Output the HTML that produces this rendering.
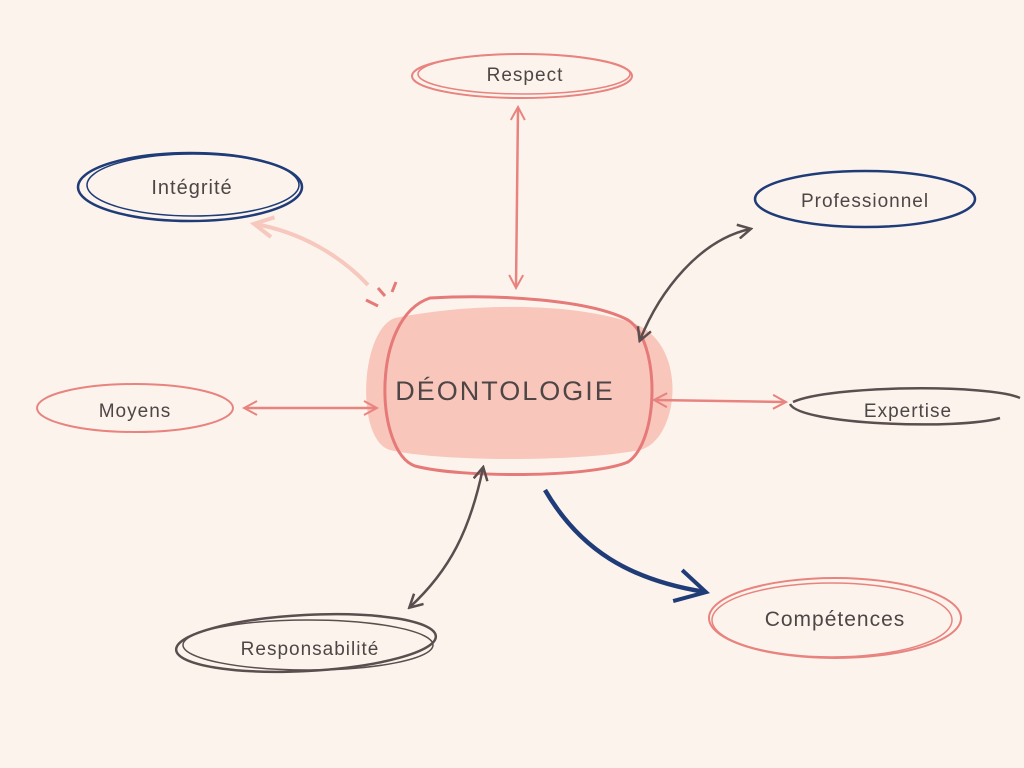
<!DOCTYPE html>
<html><head><meta charset="utf-8"><style>
html,body{margin:0;padding:0;background:#fcf4ec;}
svg{display:block}
text{font-family:"Liberation Sans",sans-serif;fill:#4e4646;}
</style></head><body>
<svg width="1024" height="768" viewBox="0 0 1024 768" xmlns="http://www.w3.org/2000/svg">
<rect width="1024" height="768" fill="#fcf4ec"/>
<defs>
<marker id="ap" markerWidth="16" markerHeight="16" refX="13" refY="8" orient="auto-start-reverse" markerUnits="userSpaceOnUse"><path d="M1,1 L14,8 L1,15" fill="none" stroke="#e8837f" stroke-width="2"/></marker>
<marker id="ag" markerWidth="16" markerHeight="16" refX="13" refY="8" orient="auto-start-reverse" markerUnits="userSpaceOnUse"><path d="M1,1 L14,8 L1,15" fill="none" stroke="#5a4e4e" stroke-width="2.5"/></marker>
<marker id="al" markerWidth="24" markerHeight="24" refX="19" refY="12" orient="auto-start-reverse" markerUnits="userSpaceOnUse"><path d="M1,2 L20,12 L1,22" fill="none" stroke="#f7c8bd" stroke-width="4"/></marker>
<marker id="an" markerWidth="40" markerHeight="40" refX="32" refY="20" orient="auto" markerUnits="userSpaceOnUse"><path d="M6,2 L33,20 L2,34" fill="none" stroke="#1f3c78" stroke-width="4"/></marker>
</defs>
<!-- central -->
<path d="M395,318 C460,305 560,300 630,322 C690,340 680,440 640,450 C580,462 440,462 390,450 C355,440 360,330 395,318Z" fill="#f9c6bb"/>
<path d="M430,298 C500,294 590,300 628,320 C660,340 660,440 628,462 C590,478 460,478 415,466 C375,452 370,318 430,298Z" fill="none" stroke="#e57a79" stroke-width="3"/>
<path d="M378,306 L366,300 M385,296 L378,288 M392,292 L396,282" stroke="#e57a79" stroke-width="3" fill="none"/>
<text x="505" y="400" text-anchor="middle" font-size="27" letter-spacing="2" style="fill:#4e4646">DÉONTOLOGIE</text>
<!-- nodes -->
<ellipse cx="522" cy="76" rx="110" ry="22" fill="none" stroke="#e8837f" stroke-width="2"/>
<ellipse cx="524" cy="74" rx="106" ry="20" fill="none" stroke="#e8837f" stroke-width="1.5"/>
<text x="525" y="81" text-anchor="middle" font-size="19" letter-spacing="1">Respect</text>
<ellipse cx="190" cy="187" rx="112" ry="34" fill="none" stroke="#1f3c78" stroke-width="2.5"/>
<ellipse cx="193" cy="185" rx="106" ry="31" fill="none" stroke="#1f3c78" stroke-width="1.5"/>
<text x="192" y="194" text-anchor="middle" font-size="20" letter-spacing="1">Intégrité</text>
<ellipse cx="865" cy="199" rx="110" ry="28" fill="none" stroke="#1f3c78" stroke-width="2.5"/>
<text x="865" y="207" text-anchor="middle" font-size="19" letter-spacing="1">Professionnel</text>
<ellipse cx="135" cy="408" rx="98" ry="24" fill="none" stroke="#e8837f" stroke-width="2"/>
<text x="135" y="417" text-anchor="middle" font-size="19" letter-spacing="1">Moyens</text>
<path d="M793,402 C830,385 990,384 1020,398 M790,404 C800,425 960,430 1000,418" fill="none" stroke="#5a4e4e" stroke-width="2.5"/>
<text x="908" y="417" text-anchor="middle" font-size="19" letter-spacing="1">Expertise</text>
<ellipse cx="306" cy="643" rx="130" ry="28" fill="none" stroke="#5a4e4e" stroke-width="2.5" transform="rotate(-3 306 643)"/>
<ellipse cx="308" cy="645" rx="125" ry="25" fill="none" stroke="#5a4e4e" stroke-width="1.5"/>
<text x="310" y="655" text-anchor="middle" font-size="19" letter-spacing="1">Responsabilité</text>
<ellipse cx="835" cy="618" rx="126" ry="40" fill="none" stroke="#e8837f" stroke-width="2"/>
<ellipse cx="832" cy="620" rx="120" ry="37" fill="none" stroke="#e8837f" stroke-width="1.5"/>
<text x="835" y="626" text-anchor="middle" font-size="21" letter-spacing="1">Compétences</text>
<!-- connectors -->
<line x1="518" y1="108" x2="516" y2="287" stroke="#e8837f" stroke-width="2.5" marker-start="url(#ap)" marker-end="url(#ap)"/>
<path d="M368,285 C340,255 300,232 255,224" fill="none" stroke="#f7c8bd" stroke-width="4" marker-end="url(#al)"/>
<path d="M750,229 C700,240 660,290 640,340" fill="none" stroke="#5a4e4e" stroke-width="2.5" marker-start="url(#ag)" marker-end="url(#ag)"/>
<line x1="245" y1="408" x2="376" y2="408" stroke="#e8837f" stroke-width="2.5" marker-start="url(#ap)" marker-end="url(#ap)"/>
<line x1="655" y1="400" x2="785" y2="402" stroke="#e8837f" stroke-width="2.5" marker-start="url(#ap)" marker-end="url(#ap)"/>
<path d="M483,468 C470,530 450,570 410,607" fill="none" stroke="#5a4e4e" stroke-width="2.5" marker-start="url(#ag)" marker-end="url(#ag)"/>
<path d="M545,490 C580,550 630,580 705,592" fill="none" stroke="#1f3c78" stroke-width="4.5" marker-end="url(#an)"/>
</svg>
</body></html>
